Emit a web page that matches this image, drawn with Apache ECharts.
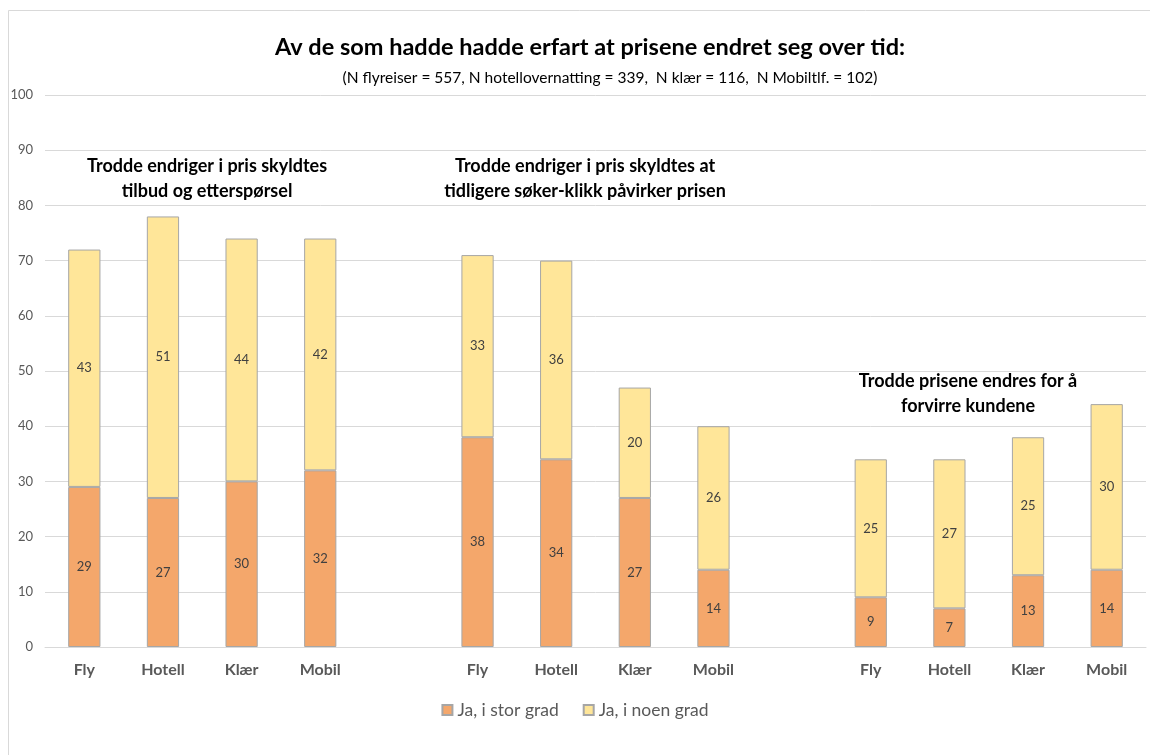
<!DOCTYPE html>
<html>
<head>
<meta charset="utf-8">
<script src="https://cdn.jsdelivr.net/npm/echarts@6/dist/echarts.min.js"></script>
<style>
  html, body { margin: 0; padding: 0; background: #fff; }
  #chart { width: 1150px; height: 755px; }
</style>
</head>
<body>
<div id="chart"></div>
<script>
// Three groups of four products, separated by an empty slot
const categories = ['Fly', 'Hotell', 'Klær', 'Mobil', '', 'Fly', 'Hotell', 'Klær', 'Mobil', '', 'Fly', 'Hotell', 'Klær', 'Mobil'];
const storGrad = [29, 27, 30, 32, '-', 38, 34, 27, 14, '-', 9, 7, 13, 14];
const noenGrad = [43, 51, 44, 42, '-', 33, 36, 20, 26, '-', 25, 27, 25, 30];
const seriesNames = ['Ja, i stor grad', 'Ja, i noen grad'];
const yTicks = { min: 0, max: 100, interval: 10 };

const FONT = 'Lato, "Open Sans", "Noto Sans", sans-serif';
const chart = echarts.init(document.getElementById('chart'));

function barSeries(name, data, color) {
  return {
    name: name,
    type: 'bar',
    stack: 'total',
    data: data,
    barWidth: '41%',
    itemStyle: { color: color, borderColor: '#a6a6a6', borderWidth: 1 },
    label: {
      show: true,
      position: 'inside',
      color: '#404040',
      fontSize: 13,
      fontFamily: FONT
    }
  };
}

const groupNoteStyle = {
  fontFamily: FONT,
  fontSize: 18,
  fontWeight: 'bold',
  fill: '#000',
  align: 'center',
  lineHeight: 25
};

chart.setOption({
  backgroundColor: '#fff',
  animation: false,
  title: [{
    text: 'Av de som hadde hadde erfart at prisene endret seg over tid:',
    left: 585,
    top: 30,
    textAlign: 'center',
    textStyle: { fontFamily: FONT, fontSize: 23.5, fontWeight: 'bold', color: '#000' }
  }, {
    text: '(N flyreiser = 557, N hotellovernatting = 339,  N klær = 116,  N Mobiltlf. = 102)',
    left: 605,
    top: 65,
    textAlign: 'center',
    textStyle: { fontFamily: FONT, fontSize: 15.5, fontWeight: 'normal', color: '#000' }
  }],
  legend: {
    bottom: 31,
    left: 'center',
    itemWidth: 10,
    itemHeight: 10,
    itemGap: 24,
    icon: 'rect',
    textStyle: { fontFamily: FONT, fontSize: 17.5, color: '#595959' },
    data: seriesNames
  },
  grid: { left: 45, right: 4, top: 95, bottom: 108 },
  xAxis: {
    type: 'category',
    data: categories,
    axisLine: { lineStyle: { color: '#d9d9d9' } },
    axisTick: { show: false },
    axisLabel: {
      color: '#595959',
      fontFamily: FONT,
      fontSize: 16,
      fontWeight: 'bold',
      margin: 15,
      interval: 0
    }
  },
  yAxis: {
    type: 'value',
    min: yTicks.min,
    max: yTicks.max,
    interval: yTicks.interval,
    axisLine: { show: false },
    axisTick: { show: false },
    splitLine: { lineStyle: { color: '#d9d9d9' } },
    axisLabel: { color: '#595959', fontFamily: FONT, fontSize: 13, margin: 12 }
  },
  graphic: [
    {
      type: 'rect',
      shape: { x: 8.5, y: 10.5, width: 1300, height: 1000 },
      style: { fill: 'none', stroke: '#d9d9d9', lineWidth: 1 },
      silent: true,
      z: -10
    },
    {
      type: 'text', x: 207, y: 154,
      style: Object.assign({ text: 'Trodde endriger i pris skyldtes\ntilbud og etterspørsel' }, groupNoteStyle)
    },
    {
      type: 'text', x: 585, y: 154,
      style: Object.assign({ text: 'Trodde endriger i pris skyldtes at\ntidligere søker-klikk påvirker prisen' }, groupNoteStyle)
    },
    {
      type: 'text', x: 968, y: 369,
      style: Object.assign({ text: 'Trodde prisene endres for å\nforvirre kundene' }, groupNoteStyle)
    }
  ],
  series: [
    barSeries(seriesNames[0], storGrad, '#f4a76b'),
    barSeries(seriesNames[1], noenGrad, '#ffe699')
  ]
});
</script>
</body>
</html>
